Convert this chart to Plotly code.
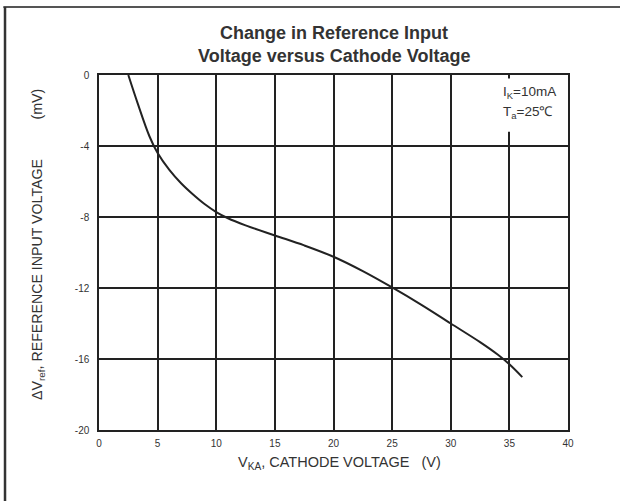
import plotly.graph_objects as go

# Data
v_ka = [2.5, 3.3, 4.3, 5.0, 6.0, 7.0, 8.0, 9.0, 10.0, 11.0, 12.5, 15.0, 17.5, 20.0, 22.5, 25.0, 27.5, 30.0, 32.5, 34.0, 35.0, 36.1]
d_vref = [0.0, -1.6, -3.45, -4.4, -5.35, -6.1, -6.72, -7.27, -7.72, -8.07, -8.47, -9.04, -9.6, -10.24, -11.05, -11.97, -12.95, -14.0, -15.05, -15.75, -16.3, -17.02]

x_ticks = [0, 5, 10, 15, 20, 25, 30, 35, 40]
y_ticks = [0, -4, -8, -12, -16, -20]

FONT = "Liberation Sans, Arial, sans-serif"
INK = "#222222"
TXT = "#333333"
NB = "\u00a0"

fig = go.Figure()
fig.add_trace(go.Scatter(
    x=v_ka, y=d_vref, mode="lines",
    line=dict(color=INK, width=2, shape="spline", smoothing=1.0),
    hoverinfo="skip", showlegend=False,
))

axis_common = dict(
    showgrid=True, gridcolor=INK, gridwidth=1.5,
    showline=True, linecolor=INK, linewidth=1.5, mirror=True,
    zeroline=False, ticks="", tickfont=dict(family=FONT, size=10, color=TXT),
    fixedrange=True,
)

fig.update_layout(
    width=620, height=501,
    margin=dict(l=99, r=52, t=75, b=71),
    paper_bgcolor="white", plot_bgcolor="white",
    font=dict(family=FONT, color=TXT, size=10),
    showlegend=False,
    xaxis=dict(range=[0, 40], tickmode="array", tickvals=x_ticks,
               ticktext=[str(t) for t in x_ticks], ticklabelstandoff=3, **axis_common),
    yaxis=dict(range=[-20, 0], tickmode="array", tickvals=y_ticks,
               ticktext=[str(t) for t in y_ticks], ticklabelstandoff=6, **axis_common),
)

# white box behind the condition labels (interrupts the grid)
fig.add_shape(type="rect", xref="x", yref="y", x0=34.2, x1=39.2, y0=-0.2, y1=-3.2,
              fillcolor="white", line=dict(width=0), layer="between")

# outer frame: top and left lines
fig.add_shape(type="line", xref="paper", yref="paper", x0=-0.204, x1=1.12, y0=1.1915, y1=1.1915,
              line=dict(color="#555555", width=2))
fig.add_shape(type="line", xref="paper", yref="paper", x0=-0.2004, x1=-0.2004, y0=1.1915, y1=-0.25,
              line=dict(color="#333333", width=2.5))

for txt, yy in [("<b>Change in Reference Input</b>", 1.118),
                ("<b>Voltage versus Cathode Voltage</b>", 1.0535)]:
    fig.add_annotation(text=txt, xref="paper", yref="paper", x=0.5, y=yy,
                       xanchor="center", yanchor="middle", showarrow=False,
                       font=dict(family=FONT, size=18, color=TXT))

fig.add_annotation(text="V<sub>KA</sub>, CATHODE VOLTAGE" + NB * 3 + "(V)",
                   xref="paper", yref="paper", x=(339 - 99) / 469, y=1 - (463 - 75) / 355,
                   xanchor="center", yanchor="middle",
                   showarrow=False, font=dict(family=FONT, size=14.5, color=TXT))
fig.add_annotation(text="\u0394V<sub>ref</sub>, REFERENCE INPUT VOLTAGE" + NB * 10 + "(mV)",
                   xref="paper", yref="paper", x=(38 - 99) / 469, y=1 - (245 - 75) / 355,
                   xanchor="center", yanchor="middle",
                   textangle=-90, showarrow=False, font=dict(family=FONT, size=14.2, color=TXT))
fig.add_annotation(text="I<sub>K</sub>=10mA", xref="paper", yref="paper", x=(501 - 99) / 469,
                   y=1 - (92 - 75) / 355, xanchor="left", yanchor="middle", showarrow=False,
                   font=dict(family=FONT, size=13.5, color=TXT))
fig.add_annotation(text="T<sub>a</sub>=25\u2103", xref="paper", yref="paper", x=(501 - 99) / 469,
                   y=1 - (112 - 75) / 355, xanchor="left", yanchor="middle", showarrow=False,
                   font=dict(family=FONT, size=13.5, color=TXT))

fig.write_html("out.html", config={"displayModeBar": False},
               post_script="document.body.style.margin='0';")
